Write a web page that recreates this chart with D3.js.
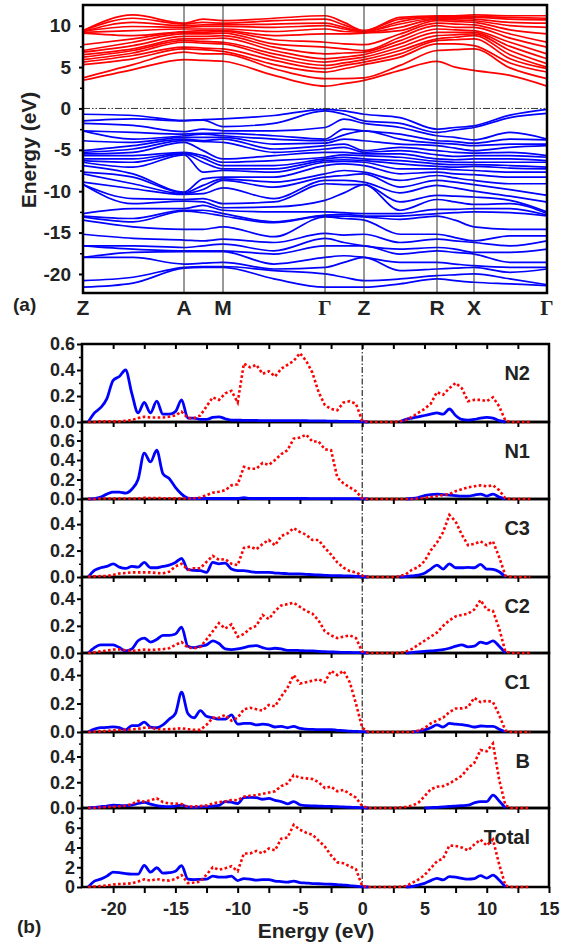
<!DOCTYPE html>
<html>
<head>
<meta charset="utf-8">
<script src="https://cdn.jsdelivr.net/npm/d3@7"></script>
<style>
  body { margin: 0; background: #fff; }
  svg text { font-family: "Liberation Sans", Arial, sans-serif; font-weight: bold; fill: #222; }
</style>
</head>
<body>
<svg id="chart" width="565" height="947"></svg>
<script>
// ---------- (a) band structure ----------
const kLabels = ["Z", "A", "M", "Γ", "Z", "R", "X", "Γ"];
const kTicks = [0, 1.01, 1.40, 2.42, 2.81, 3.54, 3.91, 4.64];
// k positions the energies were read at (symmetry points + segment midpoints)
const kSamples = [0, 0.50, 1.01, 1.20, 1.40, 1.91, 2.42, 2.61, 2.81, 3.17, 3.54, 3.72, 3.91, 4.27, 4.64];
const eTicks = [-20, -15, -10, -5, 0, 5, 10];

// conduction band energies (eV) at each sample k
const condByK = [
  [3.4, 3.7, 5.3, 5.6, 5.9, 6.2, 6.5, 6.8, 7.0, 7.7, 9.1, 9.2, 9.3, 9.3, 9.4, 9.4],
  [4.7, 5.3, 6.0, 6.4, 6.7, 7.0, 7.2, 7.6, 8.0, 8.4, 8.8, 9.4, 9.9, 10.4, 10.9, 11.3],
  [5.9, 6.8, 7.2, 7.4, 8.0, 8.2, 8.4, 8.7, 9.0, 9.2, 9.3, 9.6, 9.8, 10.0, 10.2, 10.3],
  [5.8, 6.6, 7.1, 7.3, 7.9, 8.1, 8.4, 8.7, 9.0, 9.2, 9.4, 9.6, 9.9, 10.1, 10.4, 10.8],
  [5.7, 6.6, 6.9, 7.2, 7.8, 8.0, 8.5, 8.8, 9.1, 9.3, 9.4, 9.6, 9.9, 10.1, 10.3, 10.6],
  [4.0, 4.8, 5.3, 5.8, 6.2, 6.6, 7.0, 7.4, 7.8, 8.3, 8.8, 9.3, 9.8, 10.2, 10.6, 10.9],
  [2.7, 3.6, 4.4, 4.8, 5.2, 5.6, 6.0, 6.6, 7.4, 8.0, 9.0, 9.6, 10.0, 10.3, 10.8, 11.2],
  [3.0, 3.6, 4.8, 5.2, 5.5, 5.9, 6.2, 6.7, 7.2, 7.8, 9.0, 9.3, 9.6, 9.8, 10.1, 10.4],
  [3.4, 3.7, 5.3, 5.6, 5.9, 6.2, 6.5, 6.8, 7.0, 7.7, 9.1, 9.2, 9.3, 9.3, 9.4, 9.4],
  [4.6, 5.2, 6.2, 6.6, 7.0, 7.4, 7.8, 8.2, 8.6, 9.0, 9.4, 9.8, 10.2, 10.5, 10.8, 11.0],
  [5.7, 7.0, 7.8, 8.2, 8.4, 8.8, 9.2, 9.6, 10.0, 10.3, 10.6, 10.8, 10.9, 11.0, 11.1, 11.2],
  [5.0, 7.1, 7.8, 8.3, 8.6, 8.9, 9.2, 9.5, 9.8, 10.2, 10.5, 10.7, 10.9, 11.0, 11.1, 11.2],
  [4.6, 7.2, 7.6, 8.4, 8.8, 9.0, 9.2, 9.4, 9.8, 10.1, 10.4, 10.6, 10.8, 11.0, 11.1, 11.3],
  [4.0, 4.9, 5.5, 6.0, 6.5, 7.0, 7.5, 8.0, 8.5, 9.0, 9.5, 10.0, 10.4, 10.8, 11.0, 11.2],
  [2.7, 3.6, 4.4, 4.8, 5.0, 5.4, 6.0, 6.6, 7.4, 8.0, 9.0, 9.8, 10.3, 10.7, 10.9, 11.2]
];

// valence band energies (eV) at each sample k
const valByK = [
  [-0.7, -1.5, -1.8, -2.7, -2.7, -3.9, -5.1, -5.3, -5.5, -5.7, -6.1, -6.3, -6.5, -6.9, -7.7, -7.9, -8.9, -9.2, -9.2, -12.7, -13.0, -13.1, -13.5, -15.2, -16.6, -16.6, -18.0, -18.0, -20.8, -21.6],
  [-0.85, -1.25, -2.05, -2.9, -3.7, -4.1, -4.5, -4.9, -5.3, -5.7, -6.1, -6.5, -7.1, -7.9, -8.3, -9.1, -9.7, -10.9, -11.5, -12.1, -13.3, -13.7, -14.3, -15.7, -16.6, -17.0, -17.4, -18.0, -20.4, -21.1],
  [-1.45, -1.5, -2.8, -3.1, -3.3, -3.5, -3.7, -3.9, -4.1, -5.3, -5.4, -5.5, -5.6, -10.1, -10.2, -10.3, -10.4, -11.0, -11.2, -12.1, -12.3, -12.4, -14.6, -15.9, -16.8, -17.2, -17.3, -18.8, -19.2, -19.3],
  [-1.35, -1.4, -2.5, -3.0, -3.1, -3.5, -3.9, -4.0, -5.1, -5.7, -6.0, -6.5, -7.7, -8.5, -9.3, -9.8, -10.3, -10.9, -11.3, -11.7, -12.3, -12.6, -14.6, -16.0, -16.6, -17.2, -17.3, -18.7, -19.1, -19.2],
  [-1.25, -2.2, -2.7, -3.0, -3.3, -3.5, -3.7, -4.1, -6.1, -6.5, -6.9, -7.3, -7.5, -8.3, -8.5, -8.7, -9.6, -11.5, -12.0, -12.3, -12.7, -13.0, -14.3, -15.8, -16.4, -17.2, -17.3, -18.6, -19.1, -19.2],
  [-0.85, -1.8, -2.7, -3.3, -3.7, -4.3, -4.9, -5.3, -5.7, -6.3, -6.9, -7.3, -7.7, -8.3, -8.9, -9.5, -10.9, -11.3, -11.9, -12.5, -13.7, -13.8, -15.5, -16.2, -17.2, -17.6, -18.8, -19.4, -19.6, -20.6],
  [-0.1, -0.3, -2.3, -3.7, -3.9, -4.2, -4.5, -4.9, -5.3, -5.9, -6.1, -6.3, -6.5, -6.9, -7.9, -8.3, -8.7, -9.1, -11.1, -12.5, -12.9, -13.0, -13.1, -15.1, -15.7, -16.6, -18.0, -19.2, -20.0, -21.6],
  [-0.3, -0.7, -1.3, -2.5, -3.2, -3.7, -4.3, -4.7, -5.3, -5.6, -5.9, -6.2, -6.4, -6.7, -7.5, -8.1, -8.7, -9.2, -10.2, -12.6, -12.8, -13.0, -13.3, -15.3, -16.2, -16.6, -17.8, -18.6, -20.4, -21.6],
  [-0.7, -1.5, -1.8, -2.7, -2.7, -3.9, -5.1, -5.3, -5.5, -5.7, -6.1, -6.3, -6.5, -6.9, -7.7, -7.9, -8.9, -9.2, -9.2, -12.7, -13.0, -13.1, -13.5, -15.2, -16.6, -16.6, -18.0, -18.0, -20.8, -21.6],
  [-1.1, -1.8, -2.3, -3.1, -3.7, -4.3, -4.7, -5.1, -5.5, -5.9, -6.3, -6.7, -7.3, -7.9, -8.7, -9.5, -10.2, -11.3, -12.3, -12.7, -13.0, -13.4, -15.2, -16.2, -17.0, -17.6, -18.6, -19.6, -20.6, -21.2],
  [-2.5, -2.9, -3.3, -3.9, -4.2, -4.5, -5.1, -5.6, -6.1, -6.4, -6.7, -7.0, -7.3, -7.7, -8.1, -8.7, -9.3, -10.5, -11.0, -12.2, -12.7, -13.0, -15.2, -15.8, -16.8, -17.2, -18.6, -19.4, -20.2, -20.6],
  [-2.3, -2.6, -3.5, -4.0, -4.3, -4.8, -5.3, -5.8, -6.2, -6.5, -6.8, -7.1, -7.4, -7.9, -8.4, -8.9, -9.6, -10.6, -11.3, -12.2, -12.6, -13.5, -15.6, -16.0, -17.0, -17.4, -18.8, -19.3, -20.1, -20.8],
  [-2.1, -2.3, -3.8, -4.2, -4.5, -5.1, -5.4, -5.7, -6.1, -6.5, -6.8, -7.0, -7.5, -8.0, -8.7, -9.2, -10.0, -10.7, -11.6, -12.1, -12.5, -14.3, -16.0, -16.2, -17.4, -17.6, -19.0, -19.2, -20.0, -21.0],
  [-0.8, -1.1, -2.9, -3.7, -4.3, -4.7, -5.3, -5.7, -6.1, -6.5, -6.9, -7.2, -7.7, -8.3, -9.1, -9.8, -10.6, -11.1, -11.5, -12.1, -12.6, -14.6, -15.4, -16.6, -17.4, -18.6, -19.2, -19.8, -20.6, -21.2],
  [-0.1, -0.6, -3.7, -3.8, -4.3, -4.5, -5.7, -5.9, -6.3, -6.5, -7.1, -7.3, -7.7, -8.3, -9.1, -10.5, -11.3, -12.5, -12.7, -12.9, -13.0, -14.6, -15.4, -16.0, -17.0, -18.6, -19.2, -19.4, -21.3, -21.4]
];

// ---------- (b) PDOS ----------
// energies -22 ... 13.5 eV in 0.5 eV steps
const eGrid = d3.range(-22, 13.51, 0.5);
const pdosNames = ["N2", "N1", "C3", "C2", "C1", "B", "Total"];
const pdosMax = [0.6, 0.79, 0.59, 0.56, 0.555, 0.59, 8.0];
const pdosTicks = [
  [0, 0.2, 0.4, 0.6], [0, 0.2, 0.4, 0.6], [0, 0.2, 0.4], [0, 0.2, 0.4],
  [0, 0.2, 0.4], [0, 0.2, 0.4], [0, 2, 4, 6]
];
const xTicks = [-20, -15, -10, -5, 0, 5, 10, 15];

// blue solid curves
const sDos = [
  [0, 0.07, 0.11, 0.18, 0.32, 0.35, 0.40, 0.22, 0.07, 0.15, 0.07, 0.16, 0.06, 0.06, 0.08,
   0.17, 0.03, 0.03, 0.02, 0.02, 0.035, 0.04, 0.025, 0.015, 0.015, 0.012, 0.012, 0.012, 0.01, 0.01,
   0.01, 0.01, 0.01, 0.01, 0.01, 0.01, 0.008, 0.008, 0.008, 0.006, 0.006, 0.005, 0.005, 0.004, 0.003,
   0, 0, 0, 0, 0, 0, 0.02, 0.03, 0.04, 0.05, 0.06, 0.07, 0.06, 0.10, 0.05, 0.02, 0.015, 0.02, 0.03, 0.035, 0.03, 0.01, 0, 0, 0, 0, 0],
  [0, 0.005, 0.02, 0.05, 0.07, 0.07, 0.06, 0.10, 0.20, 0.47, 0.38, 0.50, 0.26, 0.21, 0.12,
   0.05, 0.01, 0.005, 0.005, 0.005, 0.005, 0.005, 0.005, 0.005, 0.005, 0.015, 0.005, 0.005, 0.005, 0.005,
   0.005, 0.005, 0.005, 0.005, 0.005, 0.005, 0.004, 0.004, 0.004, 0.004, 0.003, 0.003, 0.003, 0.003, 0.002,
   0, 0, 0, 0, 0, 0, 0, 0.005, 0.015, 0.035, 0.045, 0.05, 0.045, 0.04, 0.035, 0.03, 0.03, 0.04, 0.05, 0.03, 0.05, 0.02, 0, 0, 0, 0, 0],
  [0, 0.05, 0.07, 0.08, 0.10, 0.075, 0.065, 0.08, 0.075, 0.11, 0.07, 0.07, 0.08, 0.09, 0.11,
   0.14, 0.055, 0.05, 0.048, 0.035, 0.11, 0.10, 0.105, 0.06, 0.048, 0.048, 0.04, 0.035, 0.035, 0.035,
   0.03, 0.028, 0.025, 0.023, 0.023, 0.02, 0.018, 0.015, 0.013, 0.011, 0.01, 0.009, 0.008, 0.005, 0.002,
   0, 0, 0, 0, 0, 0, 0.003, 0.008, 0.015, 0.028, 0.06, 0.09, 0.06, 0.10, 0.07, 0.07, 0.073, 0.07, 0.095, 0.06, 0.058, 0.04, 0, 0, 0, 0, 0],
  [0, 0.04, 0.06, 0.06, 0.06, 0.04, 0.015, 0.03, 0.09, 0.11, 0.08, 0.10, 0.13, 0.13, 0.14,
   0.19, 0.05, 0.04, 0.05, 0.06, 0.09, 0.07, 0.03, 0.025, 0.03, 0.04, 0.05, 0.055, 0.04, 0.03,
   0.035, 0.03, 0.02, 0.02, 0.018, 0.016, 0.015, 0.012, 0.01, 0.008, 0.006, 0.005, 0.004, 0.003, 0.002,
   0, 0, 0, 0, 0, 0, 0, 0.003, 0.008, 0.012, 0.015, 0.02, 0.025, 0.035, 0.05, 0.06, 0.045, 0.05, 0.08, 0.07, 0.09, 0.05, 0, 0, 0, 0, 0],
  [0, 0.02, 0.03, 0.032, 0.036, 0.03, 0.014, 0.045, 0.045, 0.07, 0.035, 0.03, 0.05, 0.09, 0.13,
   0.28, 0.13, 0.10, 0.15, 0.11, 0.10, 0.09, 0.09, 0.12, 0.055, 0.06, 0.06, 0.05, 0.055, 0.05,
   0.035, 0.04, 0.03, 0.04, 0.025, 0.02, 0.018, 0.017, 0.016, 0.017, 0.012, 0.01, 0.006, 0.004, 0.002,
   0, 0, 0, 0, 0, 0, 0, 0, 0.005, 0.015, 0.03, 0.05, 0.035, 0.06, 0.055, 0.052, 0.045, 0.035, 0.042, 0.04, 0.04, 0.02, 0, 0, 0, 0, 0],
  [0, 0.005, 0.01, 0.015, 0.022, 0.02, 0.018, 0.022, 0.035, 0.044, 0.03, 0.018, 0.012, 0.01, 0.015,
   0.022, 0.008, 0.005, 0.008, 0.01, 0.015, 0.02, 0.05, 0.045, 0.035, 0.08, 0.082, 0.08, 0.068, 0.074,
   0.06, 0.05, 0.032, 0.05, 0.025, 0.018, 0.016, 0.015, 0.013, 0.012, 0.01, 0.008, 0.006, 0.004, 0.002,
   0, 0, 0, 0, 0, 0, 0, 0, 0, 0, 0.003, 0.005, 0.008, 0.012, 0.015, 0.018, 0.022, 0.04, 0.05, 0.05, 0.10, 0.055, 0, 0, 0, 0, 0],
  [0, 0.6, 0.8, 1.1, 1.5, 1.45, 1.35, 1.3, 1.3, 2.2, 1.5, 1.95, 1.4, 1.45, 1.6,
   2.15, 0.8, 0.75, 0.78, 0.8, 1.1, 1.0, 1.0, 1.1, 0.65, 0.85, 0.8, 0.7, 0.75, 0.75,
   0.6, 0.55, 0.5, 0.6, 0.45, 0.4, 0.35, 0.33, 0.3, 0.28, 0.25, 0.2, 0.15, 0.08, 0.02,
   0, 0, 0, 0, 0, 0, 0, 0.05, 0.2, 0.37, 0.65, 0.88, 0.72, 1.05, 1.0, 0.88, 0.8, 0.85, 1.15, 0.9, 1.2, 0.7, 0, 0, 0, 0, 0]
];

// red dotted curves
const pDos = [
  [0, 0, 0.005, 0.005, 0.005, 0.005, 0.01, 0.015, 0.03, 0.04, 0.035, 0.035, 0.035, 0.04, 0.05,
   0.08, 0.03, 0.03, 0.05, 0.12, 0.19, 0.17, 0.22, 0.24, 0.15, 0.45, 0.42, 0.44, 0.37, 0.39,
   0.35, 0.41, 0.44, 0.47, 0.53, 0.47, 0.38, 0.23, 0.13, 0.10, 0.09, 0.15, 0.16, 0.14, 0.01,
   0, 0, 0, 0, 0, 0.005, 0.015, 0.04, 0.07, 0.10, 0.14, 0.23, 0.21, 0.26, 0.30, 0.26, 0.16, 0.17, 0.17, 0.16, 0.19, 0.12, 0.01, 0, 0, 0, 0],
  [0, 0, 0.005, 0.005, 0.005, 0.005, 0.005, 0.005, 0.005, 0.012, 0.01, 0.01, 0.008, 0.008, 0.006,
   0.005, 0.005, 0.008, 0.015, 0.04, 0.065, 0.075, 0.09, 0.14, 0.15, 0.33, 0.31, 0.31, 0.37, 0.35,
   0.40, 0.46, 0.50, 0.62, 0.63, 0.66, 0.59, 0.59, 0.51, 0.50, 0.22, 0.16, 0.12, 0.08, 0.005,
   0, 0, 0, 0, 0, 0, 0, 0, 0.005, 0.012, 0.02, 0.03, 0.04, 0.05, 0.08, 0.10, 0.12, 0.13, 0.14, 0.13, 0.14, 0.09, 0.005, 0, 0, 0, 0],
  [0.003, 0.005, 0.007, 0.008, 0.015, 0.027, 0.03, 0.035, 0.035, 0.035, 0.035, 0.03, 0.028, 0.04, 0.08,
   0.10, 0.055, 0.066, 0.066, 0.115, 0.16, 0.13, 0.135, 0.10, 0.09, 0.22, 0.23, 0.21, 0.25, 0.28,
   0.24, 0.31, 0.33, 0.37, 0.34, 0.32, 0.28, 0.28, 0.22, 0.17, 0.11, 0.07, 0.045, 0.035, 0.01,
   0, 0, 0, 0, 0, 0.005, 0.02, 0.055, 0.075, 0.12, 0.20, 0.26, 0.34, 0.47, 0.42, 0.32, 0.24, 0.25, 0.27, 0.24, 0.27, 0.15, 0.01, 0, 0, 0, 0],
  [0, 0.005, 0.012, 0.018, 0.025, 0.027, 0.02, 0.015, 0.02, 0.025, 0.022, 0.025, 0.028, 0.035, 0.06,
   0.08, 0.04, 0.035, 0.045, 0.10, 0.16, 0.22, 0.18, 0.21, 0.12, 0.14, 0.18, 0.20, 0.28, 0.25,
   0.31, 0.35, 0.36, 0.37, 0.34, 0.31, 0.29, 0.24, 0.16, 0.13, 0.11, 0.12, 0.13, 0.11, 0.01,
   0, 0, 0, 0, 0, 0, 0.01, 0.03, 0.06, 0.09, 0.12, 0.15, 0.20, 0.24, 0.27, 0.28, 0.29, 0.32, 0.39, 0.32, 0.31, 0.18, 0.01, 0, 0, 0, 0],
  [0, 0.003, 0.005, 0.008, 0.012, 0.014, 0.015, 0.018, 0.022, 0.03, 0.03, 0.02, 0.018, 0.02, 0.022,
   0.026, 0.02, 0.015, 0.015, 0.05, 0.10, 0.10, 0.12, 0.08, 0.10, 0.16, 0.17, 0.16, 0.15, 0.19,
   0.18, 0.25, 0.31, 0.40, 0.34, 0.35, 0.36, 0.37, 0.35, 0.43, 0.40, 0.43, 0.35, 0.20, 0.03,
   0, 0, 0, 0, 0, 0, 0, 0, 0.01, 0.026, 0.06, 0.08, 0.10, 0.14, 0.165, 0.166, 0.175, 0.24, 0.21, 0.22, 0.21, 0.12, 0.01, 0, 0, 0, 0],
  [0, 0.002, 0.005, 0.008, 0.01, 0.013, 0.018, 0.03, 0.055, 0.05, 0.06, 0.075, 0.045, 0.035, 0.035,
   0.03, 0.01, 0.012, 0.015, 0.02, 0.035, 0.045, 0.05, 0.062, 0.06, 0.088, 0.095, 0.10, 0.11, 0.12,
   0.13, 0.17, 0.19, 0.255, 0.235, 0.23, 0.225, 0.20, 0.155, 0.166, 0.13, 0.14, 0.11, 0.08, 0.015,
   0, 0, 0, 0, 0, 0.003, 0.008, 0.018, 0.04, 0.09, 0.145, 0.165, 0.17, 0.19, 0.22, 0.25, 0.31, 0.35, 0.45, 0.44, 0.50, 0.22, 0.02, 0, 0, 0, 0],
  [0, 0.05, 0.1, 0.15, 0.25, 0.3, 0.33, 0.37, 0.55, 0.77, 0.65, 0.8, 0.7, 0.65, 0.8,
   1.2, 0.4, 0.45, 0.55, 1.25, 2.0, 1.75, 1.9, 2.1, 1.6, 3.4, 3.4, 3.65, 3.4, 3.9,
   3.7, 4.9, 5.0, 6.3, 5.8, 5.5, 5.3, 4.7, 4.1, 3.2, 2.5, 2.4, 2.1, 1.8, 0.1,
   0, 0, 0, 0, 0, 0.02, 0.1, 0.4, 0.75, 1.2, 1.9, 2.6, 2.9, 4.2, 4.15, 4.0, 3.7, 4.3, 4.8, 4.2, 4.8, 2.3, 0.15, 0, 0, 0, 0]
];

const svg = d3.select("#chart");
const minusFmt = d => String(d);

// ----- panel (a) -----
const bx = d3.scaleLinear().domain([0, 4.64]).range([83, 547]);
const by = d3.scaleLinear().domain([-22.3, 12.5]).range([293, 5]);

svg.append("clipPath").attr("id", "clipA")
  .append("rect").attr("x", bx.range()[0]).attr("y", 5).attr("width", 464).attr("height", 288);

const bandLine = d3.line()
  .x((d, i) => bx(kSamples[i]))
  .y(d => by(d))
  .curve(d3.curveMonotoneX);

const toBands = byK => d3.transpose(byK.map(a => a.slice().sort(d3.ascending)));

const gA = svg.append("g").attr("clip-path", "url(#clipA)");
gA.selectAll(".cb").data(toBands(condByK)).join("path")
  .attr("d", bandLine).attr("fill", "none").attr("stroke", "#ff0000").attr("stroke-width", 1.7);
gA.selectAll(".vb").data(toBands(valByK)).join("path")
  .attr("d", bandLine).attr("fill", "none").attr("stroke", "#0000ff").attr("stroke-width", 1.7);

// fermi level
gA.append("line")
  .attr("x1", bx(0)).attr("x2", bx(4.64)).attr("y1", by(0)).attr("y2", by(0))
  .attr("stroke", "#333").attr("stroke-width", 1).attr("stroke-dasharray", "7,2,1.5,2,1.5,2");

// high-symmetry lines
svg.selectAll(".hs").data(kTicks.slice(1, -1)).join("line")
  .attr("x1", d => bx(d)).attr("x2", d => bx(d)).attr("y1", 5).attr("y2", 293)
  .attr("stroke", "#333").attr("stroke-width", 1);

svg.append("rect").attr("x", 83).attr("y", 5).attr("width", 464).attr("height", 288)
  .attr("fill", "none").attr("stroke", "#000").attr("stroke-width", 2.5);

const axA = svg.append("g").attr("transform", "translate(83,0)")
  .call(d3.axisLeft(by).tickValues(eTicks).tickSize(4).tickPadding(8).tickFormat(minusFmt));
axA.select(".domain").remove();
axA.selectAll("line").attr("stroke-width", 2);
axA.selectAll("text").style("font-size", "19px");
const axAm = svg.append("g").attr("transform", "translate(83,0)")
  .call(d3.axisLeft(by).tickValues(eTicks.map(v => v + 2.5).filter(v => v < 12.5)).tickSize(3).tickFormat(""));
axAm.select(".domain").remove();
axAm.selectAll("line").attr("stroke-width", 1.5);

svg.selectAll(".klab").data(kLabels).join("text")
  .attr("x", (d, i) => bx(kTicks[i])).attr("y", 315)
  .attr("text-anchor", "middle")
  .style("font-size", "21px")
  .style("font-family", d => d === "Γ" ? "'Liberation Serif', serif" : null)
  .text(d => d);

svg.append("text").attr("transform", "translate(36,150) rotate(-90)")
  .attr("text-anchor", "middle").style("font-size", "21px").text("Energy (eV)");
svg.append("text").attr("x", 13).attr("y", 311).style("font-size", "19px").text("(a)");

// ----- panel (b) -----
const px = d3.scaleLinear().domain([-22.5, 15]).range([82, 549]);
const bounds = [344, 422, 499, 577, 653, 732, 808, 887];
const yScales = pdosNames.map((n, i) =>
  d3.scaleLinear().domain([0, pdosMax[i]]).range([bounds[i + 1], bounds[i]]));
const minorX = d3.range(-20, 13, 2.5);

// zero-energy marker
svg.append("line").attr("x1", px(0)).attr("x2", px(0)).attr("y1", bounds[0]).attr("y2", bounds[7])
  .attr("stroke", "#000").attr("stroke-width", 1).attr("stroke-dasharray", "6,2,1.5,2");

pdosNames.forEach((name, i) => {
  const y = yScales[i];
  const y0 = bounds[i], y1 = bounds[i + 1];
  svg.append("rect").attr("x", 82).attr("y", y0).attr("width", 549 - 82).attr("height", y1 - y0)
    .attr("fill", "none").attr("stroke", "#000").attr("stroke-width", 2.5);

  const ticks = pdosTicks[i];
  const step = ticks[1] - ticks[0];
  const fmt = name === "Total" ? d3.format("d") : d3.format(".1f");
  const ax = svg.append("g").attr("transform", "translate(82,0)")
    .call(d3.axisLeft(y).tickValues(ticks).tickSize(5).tickPadding(2).tickFormat(fmt));
  ax.select(".domain").remove();
  ax.selectAll("line").attr("stroke-width", 2);
  ax.selectAll("text").style("font-size", "18px");
  const axm = svg.append("g").attr("transform", "translate(82,0)")
    .call(d3.axisLeft(y).tickValues(ticks.map(v => v + step / 2).filter(v => v < pdosMax[i])).tickSize(3).tickFormat(""));
  axm.select(".domain").remove();
  axm.selectAll("line").attr("stroke-width", 1.5);

  const axt = svg.append("g").attr("transform", `translate(0,${y0})`)
    .call(d3.axisTop(px).tickValues(minorX).tickSize(-5).tickFormat(""));
  axt.select(".domain").remove();
  axt.selectAll("line").attr("stroke-width", 2);

  svg.append("text").attr("x", 530).attr("y", y0 + 36).attr("text-anchor", "end")
    .style("font-size", "20px").text(name);
});

const axB = svg.append("g").attr("transform", `translate(0,${bounds[7]})`)
  .call(d3.axisBottom(px).tickValues(minorX.concat([15])).tickSize(6).tickPadding(9)
    .tickFormat(d => xTicks.includes(d) ? minusFmt(d) : ""));
axB.select(".domain").remove();
axB.selectAll("line").attr("stroke-width", 2);
axB.selectAll("text").style("font-size", "18px");

svg.append("text").attr("x", 316).attr("y", 938).attr("text-anchor", "middle")
  .style("font-size", "21px").text("Energy (eV)");
svg.append("text").attr("x", 17).attr("y", 933).style("font-size", "19px").text("(b)");

// curves on top of frames
pdosNames.forEach((name, i) => {
  const y = yScales[i];
  const s = sDos[i], p = pDos[i];
  const sLine = d3.line()
    .defined((d, j) => s[j] > 0 || s[j - 1] > 0 || s[j + 1] > 0)
    .x((d, j) => px(eGrid[j])).y(d => y(d))
    .curve(d3.curveMonotoneX);
  const pLine = d3.line()
    .x((d, j) => px(eGrid[j])).y(d => y(d));
  svg.append("path").datum(s).attr("d", sLine)
    .attr("fill", "none").attr("stroke", "#0000ff").attr("stroke-width", 2.8);
  svg.append("path").datum(p).attr("d", pLine)
    .attr("fill", "none").attr("stroke", "#ff0000").attr("stroke-width", 2.6)
    .attr("stroke-dasharray", "2.6,2.4");
});
</script>
</body>
</html>
